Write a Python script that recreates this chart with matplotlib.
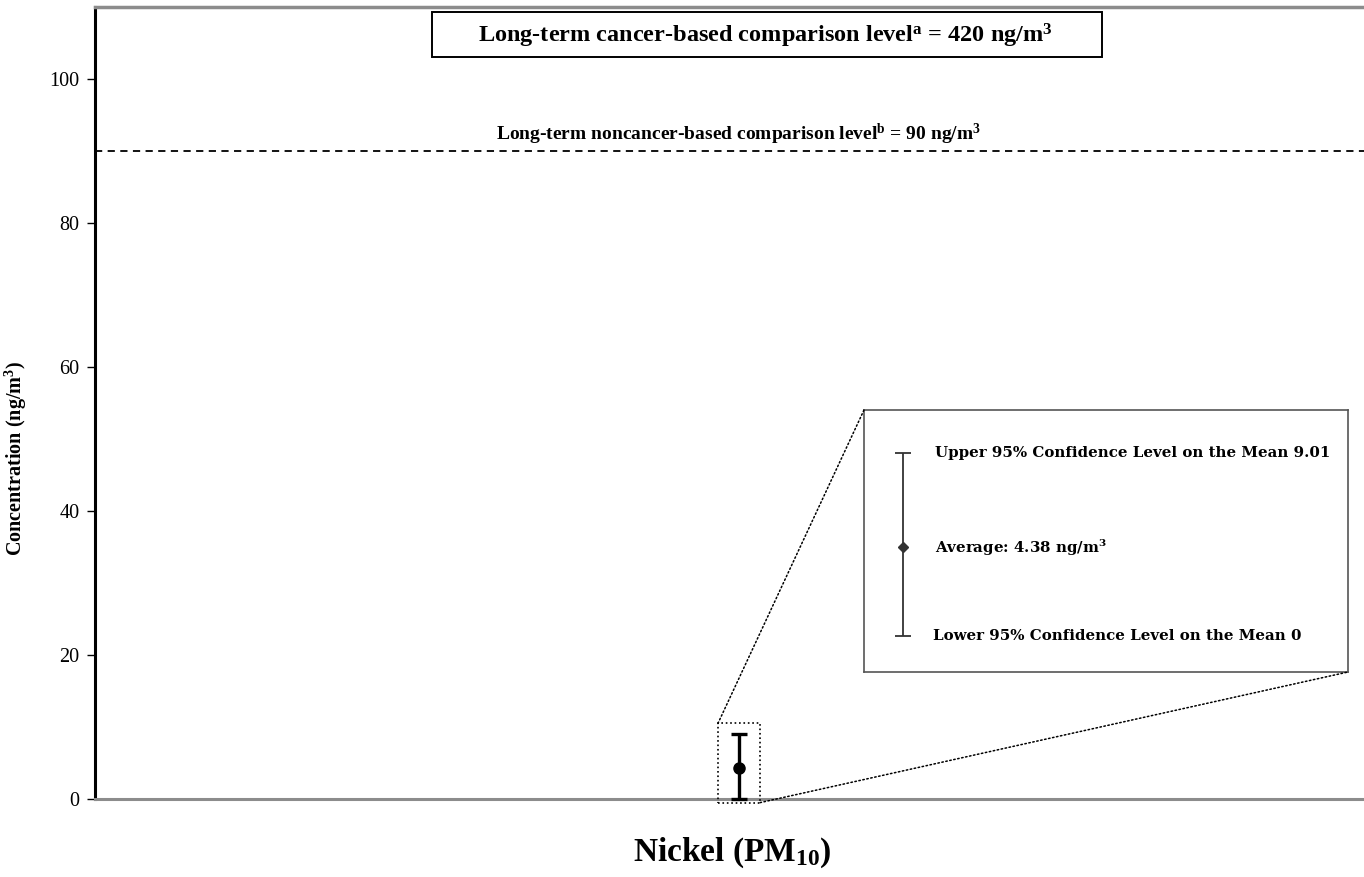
import matplotlib
matplotlib.use("Agg")
import matplotlib.pyplot as plt
from matplotlib.patches import Rectangle, ConnectionPatch

plt.rcParams['font.family'] = ['Liberation Serif', 'DejaVu Serif']
plt.rcParams['mathtext.default'] = 'regular'

# Nickel (PM10) summary statistics, ng/m3
pollutant = "Nickel (PM$_{10}$)"
mean_conc = 4.38
lower_ci = 0.0
upper_ci = 9.01

# comparison levels, ng/m3
cancer_level = 420
noncancer_level = 90

y_ticks = [0, 20, 40, 60, 80, 100]

fig = plt.figure(figsize=(13.64, 8.77), dpi=100)
ax = fig.add_axes([0.0696, 0.0889, 0.935, 0.903])

ax.set_xlim(-0.505, 0.495)
ax.set_ylim(0, 110)
ax.set_yticks(y_ticks)
ax.set_xticks([])
ax.tick_params(axis='y', labelsize=14.5, length=6, width=1, direction='out', pad=5)

ax.spines['right'].set_visible(False)
ax.spines['left'].set_linewidth(2.2)
ax.spines['left'].set_color('black')
ax.spines['top'].set_linewidth(2.5)
ax.spines['top'].set_color('#8c8c8c')
ax.spines['bottom'].set_linewidth(2.2)
ax.spines['bottom'].set_color('#8c8c8c')

# mean with 95% confidence interval
ax.errorbar([0], [mean_conc],
            yerr=[[mean_conc - lower_ci], [upper_ci - mean_conc]],
            fmt='o', color='black', markersize=8, elinewidth=2.4,
            capsize=5.5, capthick=2.4, clip_on=False, zorder=5)

# noncancer comparison level
ax.axhline(noncancer_level, color='black', lw=1.3, ls=(0, (4, 3)))
ax.text(0.0, noncancer_level + 0.5,
        f"Long-term noncancer-based comparison level$^{{b}}$ = {noncancer_level} ng/m$^{{3}}$",
        ha='center', va='bottom', fontsize=14, fontweight='bold')

# cancer comparison level is off the scale, so state it in a box
ax.add_patch(Rectangle((0.264, 0.937), 0.526, 0.057, transform=ax.transAxes,
                       fill=False, ec='black', lw=1.4, zorder=3))
ax.text(0.526, 0.964,
        f"Long-term cancer-based comparison level$^{{a}}$ = {cancer_level} ng/m$^{{3}}$",
        transform=ax.transAxes, ha='center', va='center', fontsize=17.5,
        fontweight='bold')

ax.set_ylabel("Concentration (ng/m$^{3}$)", fontsize=14.5, fontweight='bold')
ax.yaxis.set_label_coords(-0.052, 0.43)
ax.set_xlabel(pollutant, fontsize=24, fontweight='bold', labelpad=26)

# dotted box around the point
zoom_box = Rectangle((-0.0165, -0.5), 0.033, 11.0, fill=False, ls=':', lw=1.2,
                     ec='black', clip_on=False, zorder=4)
ax.add_patch(zoom_box)

# enlarged key
fw, fh = 1364.0, 877.0
inset = fig.add_axes([864 / fw, (fh - 672) / fh, (1348 - 864) / fw, (672 - 410) / fh])
inset.set_xlim(0, 1)
inset.set_ylim(-1.76, 11.15)
inset.set_xticks([])
inset.set_yticks([])
for s in inset.spines.values():
    s.set_color('#555555')
    s.set_linewidth(1.2)

inset.errorbar([0.08], [mean_conc],
               yerr=[[mean_conc - lower_ci], [upper_ci - mean_conc]],
               fmt='D', color='#333333', markersize=5, elinewidth=1.3,
               capsize=6, capthick=1.3)
key_font = dict(family='DejaVu Serif', fontweight='bold', fontsize=10.8, va='center')
inset.text(0.147, upper_ci, f"Upper 95% Confidence Level on the Mean {upper_ci:.2f}", **key_font)
inset.text(0.147, mean_conc, f"Average: {mean_conc:.2f} ng/m$^{{3}}$", **key_font)
inset.text(0.143, lower_ci, f"Lower 95% Confidence Level on the Mean {lower_ci:g}", **key_font)

# dotted leaders from the point box to the key
for xa, ya, xb, yb in [(-0.0165, 10.5, 0, 1), (0.0165, -0.5, 1, 0)]:
    con = ConnectionPatch(xyA=(xa, ya), coordsA=ax.transData,
                          xyB=(xb, yb), coordsB=inset.transAxes,
                          ls=':', lw=1.1, color='black')
    fig.add_artist(con)

fig.savefig("out.png", dpi=100)
